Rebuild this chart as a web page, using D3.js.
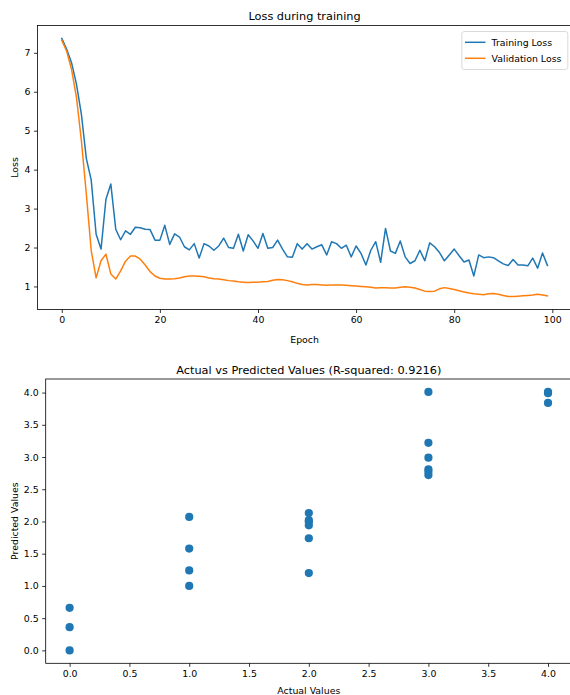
<!DOCTYPE html>
<html>
<head>
<meta charset="utf-8">
<script src="https://cdn.jsdelivr.net/npm/d3@7"></script>
<style>
  html, body { margin: 0; padding: 0; background: #fff; }
  svg { display: block; font-family: "DejaVu Sans", sans-serif; }
  .tick text { fill: #000; }
</style>
</head>
<body>
<svg id="chart" width="570" height="695"></svg>
<script>
// ---------- Data ----------
const epochs = d3.range(100);
const trainingLoss = [
  7.37, 7.09, 6.74, 6.19, 5.42, 4.29, 3.73, 2.34, 1.96, 3.24,
  3.63, 2.47, 2.20, 2.43, 2.34, 2.52, 2.51, 2.47, 2.46, 2.19,
  2.19, 2.57, 2.08, 2.35, 2.27, 2.02, 1.94, 2.10, 1.73, 2.10,
  2.04, 1.93, 2.04, 2.24, 2.00, 1.98, 2.34, 1.91, 2.33, 2.17,
  1.98, 2.36, 1.98, 2.00, 2.19, 1.96, 1.76, 1.75, 2.10, 1.96,
  2.10, 1.96, 2.02, 2.07, 1.81, 2.15, 2.10, 1.98, 2.06, 1.76,
  2.04, 1.85, 1.55, 1.93, 2.15, 1.62, 2.49, 1.91, 1.85, 2.17,
  1.76, 1.59, 1.66, 1.93, 1.66, 2.12, 2.02, 1.87, 1.66, 1.81,
  1.96, 1.79, 1.63, 1.68, 1.27, 1.81, 1.74, 1.76, 1.74, 1.66,
  1.58, 1.54, 1.69, 1.55, 1.55, 1.53, 1.73, 1.47, 1.86, 1.54
];
const validationLoss = [
  7.32, 7.04, 6.57, 5.85, 4.74, 3.38, 1.92, 1.22, 1.66, 1.83,
  1.32, 1.19, 1.40, 1.65, 1.78, 1.78, 1.70, 1.55, 1.38, 1.27,
  1.21, 1.19, 1.19, 1.20, 1.22, 1.25, 1.27, 1.27, 1.26, 1.25,
  1.22, 1.20, 1.19, 1.17, 1.15, 1.14, 1.12, 1.11, 1.10, 1.11,
  1.11, 1.12, 1.13, 1.16, 1.18, 1.17, 1.15, 1.12, 1.08, 1.05,
  1.04, 1.05, 1.05, 1.04, 1.03, 1.04, 1.04, 1.04, 1.03, 1.02,
  1.01, 1.00, 0.99, 0.98, 0.96, 0.97, 0.97, 0.96, 0.96, 0.98,
  0.99, 0.98, 0.96, 0.92, 0.88, 0.87, 0.88, 0.94, 0.97, 0.95,
  0.92, 0.89, 0.86, 0.83, 0.81, 0.80, 0.79, 0.81, 0.82, 0.80,
  0.77, 0.74, 0.74, 0.75, 0.76, 0.77, 0.78, 0.80, 0.78, 0.76
];
const lossSeriesNames = ["Training Loss", "Validation Loss"];
const lossTicksX = [0, 20, 40, 60, 80, 100];
const lossTicksY = [1, 2, 3, 4, 5, 6, 7];

const actualValues = [0, 0, 0, 1, 1, 1, 1, 2, 2, 2, 2, 2, 2, 3, 3, 3, 3, 3, 3, 4, 4, 4];
const predictedValues = [0.66, 0.36, 0.0, 2.07, 1.58, 1.24, 1.0, 2.13, 2.02, 1.99, 1.94, 1.74, 1.20,
  4.01, 3.22, 2.99, 2.81, 2.77, 2.72, 4.01, 3.99, 3.84];
const scatterTicks = [0, 0.5, 1, 1.5, 2, 2.5, 3, 3.5, 4];

const colors = ["#1f77b4", "#ff7f0e"];

// ---------- Drawing ----------
const svg = d3.select("#chart");
const TICK_FONT = 9.4, TITLE_FONT = 11.3;

function styleAxis(g) {
  g.selectAll(".domain").remove();
  g.selectAll(".tick line").attr("stroke", "#000").attr("stroke-width", 0.8);
  g.selectAll(".tick text").attr("font-size", TICK_FONT).attr("font-family", "DejaVu Sans");
}

function frame(g, x0, y0, x1, y1) {
  g.append("rect").attr("x", x0).attr("y", y0).attr("width", x1 - x0).attr("height", y1 - y0)
    .attr("fill", "none").attr("stroke", "#000").attr("stroke-width", 0.8);
}

// --- Top: loss chart ---
{
  const L = 37.5, R = 571.7, T = 25.5, B = 309.5;
  const allVals = trainingLoss.concat(validationLoss);
  const ymin = d3.min(allVals), ymax = d3.max(allVals), yr = ymax - ymin;
  const x = d3.scaleLinear().domain([-4.95, 103.95]).range([L, R]);
  const y = d3.scaleLinear().domain([ymin - 0.05 * yr, ymax + 0.05 * yr]).range([B, T]);
  const g = svg.append("g");

  const clipId = "clipTop";
  svg.append("clipPath").attr("id", clipId).append("rect")
    .attr("x", L).attr("y", T).attr("width", R - L).attr("height", B - T);

  const line = d3.line().x((d, i) => x(epochs[i])).y(d => y(d));
  [trainingLoss, validationLoss].forEach((s, k) => {
    g.append("path").datum(s).attr("d", line).attr("fill", "none")
      .attr("stroke", colors[k]).attr("stroke-width", 1.5)
      .attr("stroke-linejoin", "round").attr("stroke-linecap", "square")
      .attr("clip-path", `url(#${clipId})`);
  });

  frame(g, L, T, R, B);

  g.append("g").attr("transform", `translate(0,${B})`)
    .call(d3.axisBottom(x).tickValues(lossTicksX).tickSize(3.5).tickPadding(3.5).tickFormat(d3.format("d")))
    .call(styleAxis);
  g.append("g").attr("transform", `translate(${L},0)`)
    .call(d3.axisLeft(y).tickValues(lossTicksY).tickSize(3.5).tickPadding(3.5).tickFormat(d3.format("d")))
    .call(styleAxis);

  g.append("text").attr("x", (L + R) / 2).attr("y", 20).attr("text-anchor", "middle")
    .attr("font-size", TITLE_FONT).text("Loss during training");
  g.append("text").attr("x", (L + R) / 2).attr("y", 342.5).attr("text-anchor", "middle")
    .attr("font-size", TICK_FONT).text("Epoch");
  g.append("text").attr("transform", `translate(17.5,${(T + B) / 2}) rotate(-90)`)
    .attr("text-anchor", "middle").attr("font-size", TICK_FONT).text("Loss");

  // legend
  const lg = g.append("g");
  lg.append("rect").attr("x", 461.8).attr("y", 31.5).attr("width", 106).attr("height", 38)
    .attr("rx", 2.5).attr("fill", "#fff").attr("fill-opacity", 0.8)
    .attr("stroke", "#d0d0d0").attr("stroke-width", 0.8);
  lossSeriesNames.forEach((name, k) => {
    const yy = 42.3 + k * 16;
    lg.append("line").attr("x1", 465).attr("x2", 485.5).attr("y1", yy).attr("y2", yy)
      .attr("stroke", colors[k]).attr("stroke-width", 1.5);
    lg.append("text").attr("x", 491.6).attr("y", yy + 3.4).attr("font-size", TICK_FONT).text(name);
  });
}

// --- Bottom: scatter ---
{
  const L = 45.7, T = 379, B = 663.3;
  const x = d3.scaleLinear().domain([-0.2, 4.2]).range([L, L + 4.4 * 119.6]);
  const R = x(4.2);
  const y = d3.scaleLinear().domain([-0.2005, 4.2105]).range([B, T]);
  const g = svg.append("g");

  frame(g, L, T, R, B);

  g.selectAll("circle").data(actualValues).enter().append("circle")
    .attr("cx", d => x(d)).attr("cy", (d, i) => y(predictedValues[i]))
    .attr("r", 4.1).attr("fill", colors[0]);

  g.append("g").attr("transform", `translate(0,${B})`)
    .call(d3.axisBottom(x).tickValues(scatterTicks).tickSize(3.5).tickPadding(3.5).tickFormat(d3.format(".1f")))
    .call(styleAxis);
  g.append("g").attr("transform", `translate(${L},0)`)
    .call(d3.axisLeft(y).tickValues(scatterTicks).tickSize(3.5).tickPadding(3.5).tickFormat(d3.format(".1f")))
    .call(styleAxis);

  g.append("text").attr("x", (L + R) / 2).attr("y", 373.5).attr("text-anchor", "middle")
    .attr("font-size", TITLE_FONT).text("Actual vs Predicted Values (R-squared: 0.9216)");
  g.append("text").attr("x", (L + R) / 2).attr("y", 693.5).attr("text-anchor", "middle")
    .attr("font-size", TICK_FONT).text("Actual Values");
  g.append("text").attr("transform", `translate(18,${(T + B) / 2}) rotate(-90)`)
    .attr("text-anchor", "middle").attr("font-size", TICK_FONT).text("Predicted Values");
}
</script>
</body>
</html>
